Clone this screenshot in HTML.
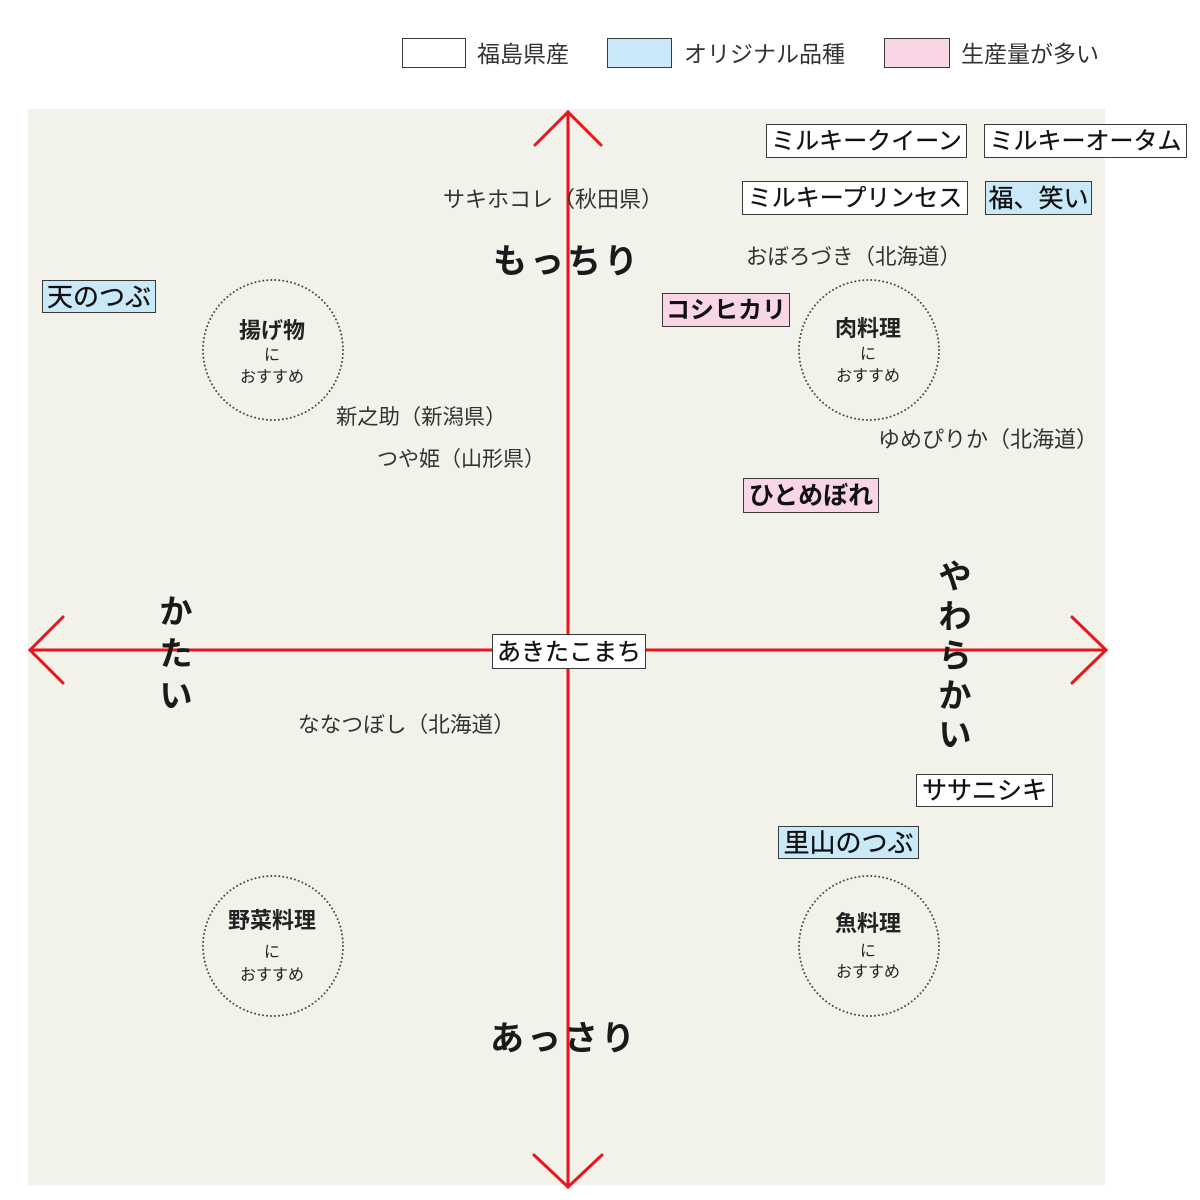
<!DOCTYPE html>
<html><head><meta charset="utf-8">
<style>
html,body{margin:0;padding:0;background:#fff;}
body{width:1200px;height:1200px;position:relative;overflow:hidden;font-family:"Liberation Sans","Noto Sans CJK JP",sans-serif;color:#222;}
.a{position:absolute;white-space:nowrap;}
.box{position:absolute;box-sizing:border-box;border:1.5px solid #3a3a3a;text-align:center;white-space:nowrap;color:#111;-webkit-text-stroke:0.3px #111;}
.w{background:#fff;}
.b{background:#c9e9f9;}
.p{background:#f8d6e6;}
.t{position:absolute;white-space:nowrap;color:#333;}
.ct{position:absolute;text-align:center;width:140px;white-space:nowrap;color:#222;}
</style></head><body>
<div class="a" style="left:28px;top:109px;width:1077px;height:1076px;background:#f2f1ea;"></div>

<svg class="a" style="left:0;top:0" width="1200" height="1200">
 <g stroke="#e8161b" stroke-width="3" fill="none" stroke-linecap="round" stroke-linejoin="miter">
  <line x1="568" y1="112" x2="568" y2="1187"/>
  <line x1="30" y1="650" x2="1106" y2="650"/>
  <polyline points="535,145 568,112 601,145"/>
  <polyline points="534,1155 568,1187 602,1155"/>
  <polyline points="63,617 30,650 63,683"/>
  <polyline points="1072,617 1106,650 1072,683"/>
 </g>
 <g stroke="#444" stroke-width="2" fill="none" stroke-dasharray="0 4" stroke-linecap="round">
  <circle cx="273" cy="350" r="70"/>
  <circle cx="869" cy="350" r="70"/>
  <circle cx="273" cy="946" r="70"/>
  <circle cx="869" cy="946" r="70"/>
 </g>
</svg>

<!-- legend -->
<div class="box w" style="left:402px;top:38px;width:64px;height:30px;"></div>
<div class="t" style="left:477px;top:39px;line-height:30px;font-size:23px;">福島県産</div>
<div class="box b" style="left:607px;top:38px;width:65px;height:30px;"></div>
<div class="t" style="left:684px;top:39px;line-height:30px;font-size:23px;">オリジナル品種</div>
<div class="box p" style="left:884px;top:38px;width:66px;height:30px;"></div>
<div class="t" style="left:961px;top:39px;line-height:30px;font-size:23px;">生産量が多い</div>

<!-- boxes -->
<div class="box w" style="left:766px;top:124px;width:201px;height:34px;line-height:34px;font-size:24px;">ミルキークイーン</div>
<div class="box w" style="left:984px;top:124px;width:203px;height:34px;line-height:34px;font-size:24px;">ミルキーオータム</div>
<div class="box w" style="left:742px;top:181px;width:226px;height:34px;line-height:34px;font-size:24px;">ミルキープリンセス</div>
<div class="box b" style="left:985px;top:181px;width:107px;height:34px;line-height:34px;font-size:25px;">福、笑い</div>
<div class="box b" style="left:42px;top:280px;width:114px;height:33px;line-height:33px;font-size:26px;">天のつぶ</div>
<div class="box p" style="left:662px;top:293px;width:128px;height:34px;line-height:34px;font-size:24px;font-weight:bold;-webkit-text-stroke:0;">コシヒカリ</div>
<div class="box p" style="left:743px;top:478px;width:136px;height:35px;line-height:35px;font-size:25px;font-weight:bold;-webkit-text-stroke:0;">ひとめぼれ</div>
<div class="box w" style="left:492px;top:634px;width:154px;height:35px;line-height:35px;font-size:24px;">あきたこまち</div>
<div class="box w" style="left:916px;top:774px;width:137px;height:33px;line-height:33px;font-size:25px;">ササニシキ</div>
<div class="box b" style="left:778px;top:826px;width:141px;height:33px;line-height:33px;font-size:26px;">里山のつぶ</div>

<!-- plain labels -->
<div class="t" style="left:443px;top:185px;line-height:30px;font-size:22px;">サキホコレ（秋田県）</div>
<div class="t" style="left:746px;top:242px;line-height:30px;font-size:21.5px;">おぼろづき（北海道）</div>
<div class="t" style="left:336px;top:402px;line-height:30px;font-size:21.3px;">新之助（新潟県）</div>
<div class="t" style="left:377px;top:445px;line-height:30px;font-size:21px;">つや姫（山形県）</div>
<div class="t" style="left:878px;top:425px;line-height:30px;font-size:22px;">ゆめぴりか（北海道）</div>
<div class="t" style="left:298px;top:710px;line-height:30px;font-size:21.7px;">ななつぼし（北海道）</div>

<!-- axis labels -->
<div class="a" style="left:493px;top:242px;line-height:40px;font-size:34px;font-weight:bold;letter-spacing:3px;color:#1a1a1a;">もっちり</div>
<div class="a" style="left:490px;top:1019px;line-height:40px;font-size:34px;font-weight:bold;letter-spacing:3px;color:#1a1a1a;">あっさり</div>
<div class="a" style="left:156px;top:591px;width:40px;text-align:center;line-height:42px;font-size:33px;font-weight:bold;color:#1a1a1a;">か<br>た<br>い</div>
<div class="a" style="left:935px;top:557px;width:40px;text-align:center;line-height:39.5px;font-size:33px;font-weight:bold;color:#1a1a1a;">や<br>わ<br>ら<br>か<br>い</div>

<!-- circle texts -->
<div class="ct" style="left:202px;top:316px;line-height:30px;font-size:22px;font-weight:bold;">揚げ物</div>
<div class="ct" style="left:202px;top:345px;line-height:22px;font-size:16px;">に</div>
<div class="ct" style="left:202px;top:367px;line-height:22px;font-size:16px;">おすすめ</div>

<div class="ct" style="left:798px;top:314px;line-height:30px;font-size:22px;font-weight:bold;">肉料理</div>
<div class="ct" style="left:798px;top:344px;line-height:22px;font-size:16px;">に</div>
<div class="ct" style="left:798px;top:366px;line-height:22px;font-size:16px;">おすすめ</div>

<div class="ct" style="left:202px;top:906px;line-height:30px;font-size:22px;font-weight:bold;">野菜料理</div>
<div class="ct" style="left:202px;top:942px;line-height:22px;font-size:16px;">に</div>
<div class="ct" style="left:202px;top:965px;line-height:22px;font-size:16px;">おすすめ</div>

<div class="ct" style="left:798px;top:909px;line-height:30px;font-size:22px;font-weight:bold;">魚料理</div>
<div class="ct" style="left:798px;top:941px;line-height:22px;font-size:16px;">に</div>
<div class="ct" style="left:798px;top:962px;line-height:22px;font-size:16px;">おすすめ</div>
</body></html>
